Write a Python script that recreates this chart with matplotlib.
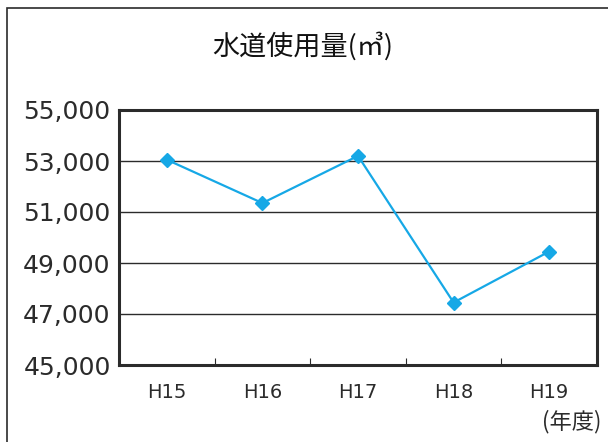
import matplotlib.pyplot as plt
from matplotlib.patches import Rectangle
from matplotlib.ticker import FuncFormatter, FixedLocator

plt.rcParams['font.family'] = ['DejaVu Sans', 'Noto Sans CJK JP']

years = ['H15', 'H16', 'H17', 'H18', 'H19']
usage = [53050, 51350, 53200, 47450, 49450]
y_ticks = [45000, 47000, 49000, 51000, 53000, 55000]

line_color = '#16a8e6'
dark = '#2b2b2b'

fig = plt.figure(figsize=(6.08, 4.42), dpi=100)

# outer frame, open to the right and bottom edges
frame = Rectangle((7 / 608, -0.2), 1.2, (442 - 8) / 442 + 0.2,
                  transform=fig.transFigure, fill=False,
                  edgecolor=dark, linewidth=1.2)
fig.patches.append(frame)

ax = fig.add_axes([119 / 608, (442 - 365) / 442, 478 / 608, 255 / 442])

x = list(range(len(years)))
ax.plot(x, usage, color=line_color, linewidth=1.6, marker='D',
        markersize=7.5, markeredgecolor=line_color, zorder=3)

ax.set_xlim(-0.5, len(years) - 0.5)
ax.set_ylim(y_ticks[0], y_ticks[-1])

ax.set_yticks(y_ticks)
ax.yaxis.set_major_formatter(FuncFormatter(lambda v, p: f'{int(v):,}'))
ax.tick_params(axis='y', length=0, pad=6, labelsize=18, labelcolor=dark)
ax.yaxis.grid(True, color=dark, linewidth=1.0)
ax.set_axisbelow(True)

ax.set_xticks(x)
ax.set_xticklabels(years, fontsize=14, color=dark)
ax.tick_params(axis='x', which='major', length=0, pad=13)
ax.xaxis.set_minor_locator(FixedLocator([i + 0.5 for i in x[:-1]]))
ax.tick_params(axis='x', which='minor', direction='in', length=5,
               width=0.8, color=dark)

for s in ax.spines.values():
    s.set_color(dark)
    s.set_linewidth(2.2)

fig.text(303 / 608, 1 - 46 / 442, '水道使用量(㎥)', ha='center', va='center',
         fontsize=19.5, color='#111111',
         family=['Noto Sans CJK JP', 'DejaVu Sans'])
fig.text(601 / 608, 1 - 422 / 442, '(年度)', ha='right', va='center',
         fontsize=16, color=dark,
         family=['Noto Sans CJK JP', 'DejaVu Sans'])

fig.savefig('out.png', dpi=100)
